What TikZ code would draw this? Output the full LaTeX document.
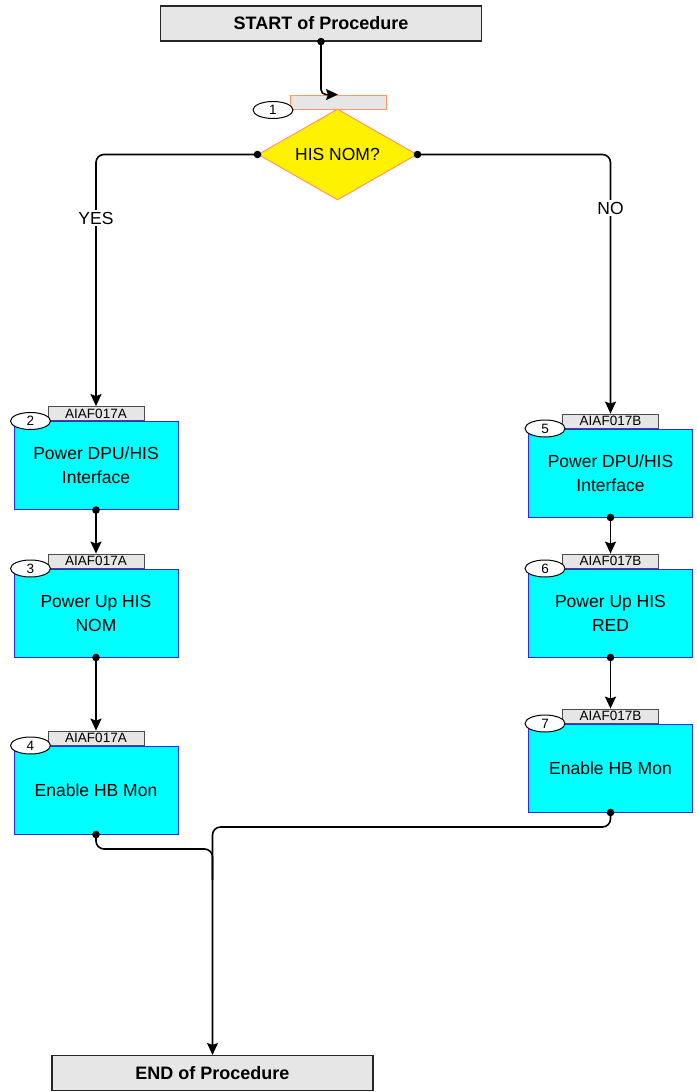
\documentclass[tikz,border=0pt]{standalone}
\usepackage{fontspec}
\setmainfont{Liberation Sans}
\usetikzlibrary{positioning,calc,arrows.meta,shapes.geometric}

\definecolor{boxgray}{HTML}{E6E6E6}
\definecolor{stepcyan}{HTML}{00FFFF}
\definecolor{stepblue}{HTML}{2828FF}
\definecolor{decorange}{HTML}{FF9966}

\tikzset{
	endbox/.style={draw=black!85, fill=boxgray, line width=1.1pt, minimum width=321pt, minimum height=35pt, inner sep=0pt, font=\fontsize{18}{21}\selectfont\bfseries},
	stepbox/.style={draw=stepblue, fill=stepcyan, line width=1pt, minimum width=164pt, minimum height=88pt, inner sep=0pt, align=center, font=\fontsize{17.5}{24}\selectfont},
	tagbox/.style={draw=black!70, fill=boxgray, line width=0.9pt, minimum width=96pt, minimum height=14pt, inner sep=0pt, font=\fontsize{13.5}{14}\selectfont},
	numoval/.style={draw=black, fill=white, ellipse, line width=1pt, minimum width=40pt, minimum height=17pt, inner sep=0pt, font=\fontsize{13.5}{14}\selectfont},
	decision/.style={draw=decorange, fill=yellow, diamond, aspect=1.75, line width=1pt, minimum width=159pt, minimum height=91pt, inner sep=0pt, font=\fontsize{17.5}{20}\selectfont},
	branch/.style={fill=white, inner sep=2pt, font=\fontsize{17.5}{20}\selectfont},
	flow/.style={line width=1.6pt, rounded corners=8pt},
	>={Stealth[length=12pt,width=11pt,inset=2pt]}
}

\begin{document}
\begin{tikzpicture}[x=1pt, y=-1pt]
	\useasboundingbox (0,0) rectangle (696,1092);

	\node[endbox] (start) at (321, 23.5) {START of Procedure};
	\node[endbox] (end)   at (212.5, 1073) {END of Procedure};

	% decision
	\node[tagbox, draw=decorange] (t1) at (338, 102) {};
	\node[numoval] (n1) at (273, 110) {1};
	\node[decision] (his) at (337.5, 154.5) {HIS NOM?};

	% YES branch
	\node[stepbox] (b2) at (96, 465.5) {Power DPU/HIS\\Interface};
	\node[stepbox] (b3) at (96, 613)   {Power Up HIS\\NOM};
	\node[stepbox] (b4) at (96, 790)   {Enable HB Mon};

	% NO branch
	\node[stepbox] (b5) at (610.5, 473) {Power DPU/HIS\\Interface};
	\node[stepbox] (b6) at (610.5, 613) {Power Up HIS\\RED};
	\node[stepbox] (b7) at (610.5, 768) {Enable HB Mon};

	\node[tagbox, above=0pt of b2] (t2) {AIAF017A};
	\node[tagbox, above=0pt of b3] (t3) {AIAF017A};
	\node[tagbox, above=0pt of b4] (t4) {AIAF017A};
	\node[tagbox, above=0pt of b5] (t5) {AIAF017B};
	\node[tagbox, above=0pt of b6] (t6) {AIAF017B};
	\node[tagbox, above=0pt of b7] (t7) {AIAF017B};

	\node[numoval, xshift=17pt] (n2) at (b2.north west) {2};
	\node[numoval, xshift=17pt] (n3) at (b3.north west) {3};
	\node[numoval, xshift=17pt] (n4) at (b4.north west) {4};
	\node[numoval, xshift=17pt] (n5) at (b5.north west) {5};
	\node[numoval, xshift=17pt] (n6) at (b6.north west) {6};
	\node[numoval, xshift=17pt] (n7) at (b7.north west) {7};

	\coordinate (jl) at (212.5, 849);
	\coordinate (jl2) at (212.5, 880);
	\coordinate (jr) at (212.5, 827);

	% connectors
	\draw [flow, rounded corners=5pt, ->] (start.south) |- (t1.north);
	\draw [flow, ->] (his.west) -| (t2.north);
	\draw [flow, ->] (his.east) -| (t5.north);
	\draw [flow, ->] (b2.south) -- (t3.north);
	\draw [flow, ->] (b3.south) -- (t4.north);
	\draw [flow, ->] (b5.south) -- (t6.north);
	\draw [flow, ->] (b6.south) -- (t7.north);
	\draw [flow] (b4.south) -- (b4.south |- jl) -- (jl) -- (jl2);
	\draw [flow, ->] (b7.south) -- (b7.south |- jr) -- (jr) -- (end.north);

	\node[branch] (yes) at (96, 218) {YES};
	\node[branch] (no)  at (610.5, 208) {NO};

	\foreach \p in {start.south, his.west, his.east, b2.south, b3.south, b4.south, b5.south, b6.south, b7.south}
		\fill (\p) circle (3.8pt);
\end{tikzpicture}
\end{document}
